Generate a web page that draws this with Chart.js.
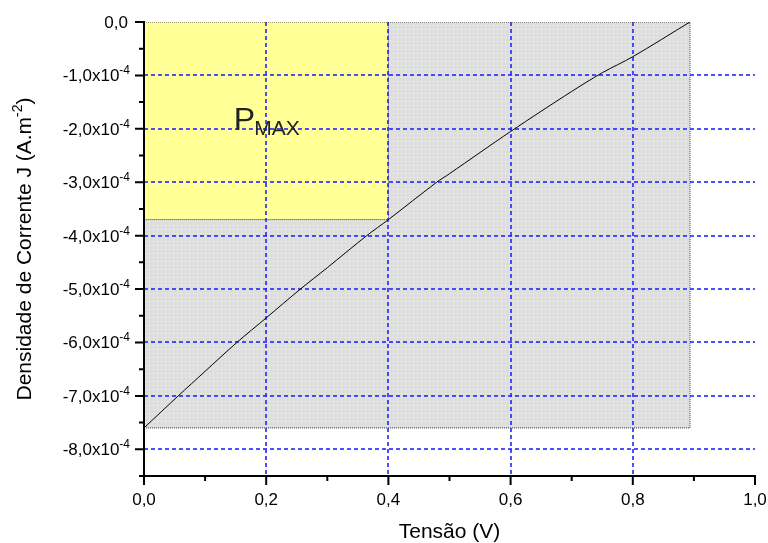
<!DOCTYPE html>
<html>
<head>
<meta charset="utf-8">
<script src="https://cdn.jsdelivr.net/npm/chart.js@4.4.0/dist/chart.umd.min.js"></script>
<style>
  html, body { margin: 0; padding: 0; background: #fff; }
  #wrap { width: 768px; height: 543px; }
</style>
</head>
<body>
<div id="wrap"><canvas id="jv" width="768" height="543"></canvas></div>
<script>
// J-V curve of the cell
const voltage = [0, 0.056, 0.1, 0.152, 0.2, 0.256, 0.3, 0.3645, 0.4, 0.479, 0.5, 0.6, 0.7, 0.75, 0.8, 0.8936];
const current = [-7.6e-4, -7.0e-4, -6.54e-4, -6.0e-4, -5.54e-4, -5.0e-4, -4.6e-4, -4.0e-4, -3.7e-4, -3.0e-4, -2.84e-4, -2.05e-4, -1.3e-4, -0.95e-4, -0.65e-4, 0];

// maximum power point and open circuit / short circuit
const vMax = 0.4, jMax = -3.7e-4;
const vOc = 0.8936, jSc = -7.6e-4;

const xTicks = [0, 0.2, 0.4, 0.6, 0.8, 1.0];
const xMinor = [0.1, 0.3, 0.5, 0.7, 0.9];
const yTicks = [0, -1e-4, -2e-4, -3e-4, -4e-4, -5e-4, -6e-4, -7e-4, -8e-4];
const yMinor = [-0.5e-4, -1.5e-4, -2.5e-4, -3.5e-4, -4.5e-4, -5.5e-4, -6.5e-4, -7.5e-4, -8.5e-4];

const FONT = '"Liberation Sans", Arial, Helvetica, sans-serif';

const curve = voltage.map((v, i) => ({ x: v, y: current[i] }));
const rect = (x1, y1) => [{ x: 0, y: 0 }, { x: 0, y: y1 }, { x: x1, y: y1 }, { x: x1, y: 0 }];

function fmt(v) {
  return v.toFixed(1).replace('.', ',');
}

// faint woven texture for the filled boxes
function texture(base, light) {
  const c = document.createElement('canvas');
  c.width = 4; c.height = 4;
  const g = c.getContext('2d');
  g.fillStyle = base;
  g.fillRect(0, 0, 4, 4);
  g.fillStyle = light;
  g.fillRect(0, 1, 4, 1);
  g.fillRect(1, 0, 1, 4);
  return g.createPattern(c, 'repeat');
}

const gridPlugin = {
  id: 'blueGrid',
  afterDatasetDraw(chart, args) {
    if (args.index !== 2) return; // right after the yellow box
    const { ctx, chartArea: a, scales: { x, y } } = chart;
    ctx.save();
    ctx.fillStyle = 'rgba(35,35,255,0.8)';
    const dash = 4, gap = 3;
    xTicks.forEach(v => {
      if (v === 0 || v === 1) return;
      const px = Math.round(x.getPixelForValue(v)) - 1;
      for (let t = a.top; t < a.bottom; t += dash + gap) {
        ctx.fillRect(px, t, 2, Math.min(dash, a.bottom - t));
      }
    });
    yTicks.forEach(v => {
      if (v === 0) return;
      const py = Math.round(y.getPixelForValue(v)) - 1;
      for (let t = a.left; t < a.right; t += dash + gap) {
        ctx.fillRect(t, py, Math.min(dash, a.right - t), 2);
      }
    });
    ctx.restore();
  }
};

const axesPlugin = {
  id: 'originAxes',
  afterDraw(chart) {
    const { ctx, chartArea: a, scales: { x, y } } = chart;
    ctx.save();
    ctx.strokeStyle = '#000';
    ctx.fillStyle = '#000';
    ctx.lineWidth = 2;

    // axis lines
    ctx.beginPath();
    ctx.moveTo(a.left, a.top - 1); ctx.lineTo(a.left, a.bottom);
    ctx.lineTo(a.right + 1, a.bottom);
    ctx.stroke();

    // ticks
    ctx.beginPath();
    yTicks.forEach(v => { const py = y.getPixelForValue(v); ctx.moveTo(a.left, py); ctx.lineTo(a.left - 9, py); });
    yMinor.forEach(v => { const py = y.getPixelForValue(v); ctx.moveTo(a.left, py); ctx.lineTo(a.left - 5, py); });
    xTicks.forEach(v => { const px = x.getPixelForValue(v); ctx.moveTo(px, a.bottom); ctx.lineTo(px, a.bottom + 9); });
    xMinor.forEach(v => { const px = x.getPixelForValue(v); ctx.moveTo(px, a.bottom); ctx.lineTo(px, a.bottom + 5); });
    ctx.stroke();

    // y tick labels with powers of ten
    const right = a.left - 14;
    yTicks.forEach(v => {
      const py = y.getPixelForValue(v);
      if (v === 0) {
        ctx.font = '17px ' + FONT;
        ctx.textAlign = 'right';
        ctx.fillText('0,0', right - 2, py + 6);
        return;
      }
      ctx.font = '12px ' + FONT;
      const sup = '-4';
      const w = ctx.measureText(sup).width;
      ctx.textAlign = 'left';
      ctx.fillText(sup, right - w, py - 1);
      ctx.font = '17px ' + FONT;
      ctx.textAlign = 'right';
      ctx.fillText(fmt(v * 1e4) + 'x10', right - w, py + 6);
    });

    // x tick labels
    ctx.font = '17px ' + FONT;
    ctx.textAlign = 'center';
    xTicks.forEach(v => ctx.fillText(fmt(v), x.getPixelForValue(v), a.bottom + 29));

    // axis titles
    ctx.font = '21px ' + FONT;
    ctx.fillText('Tensão (V)', (a.left + a.right) / 2, a.bottom + 62);

    ctx.save();
    ctx.translate(31, (a.top + a.bottom) / 2);
    ctx.rotate(-Math.PI / 2);
    const t1 = 'Densidade de Corrente J (A.m', t2 = '-2', t3 = ')';
    ctx.font = '21px ' + FONT;
    const w1 = ctx.measureText(t1).width, w3 = ctx.measureText(t3).width;
    ctx.font = '14px ' + FONT;
    const w2 = ctx.measureText(t2).width;
    let sx = -(w1 + w2 + w3) / 2;
    ctx.textAlign = 'left';
    ctx.font = '21px ' + FONT;
    ctx.fillText(t1, sx, 0);
    ctx.font = '14px ' + FONT;
    ctx.fillText(t2, sx + w1, -9);
    ctx.font = '21px ' + FONT;
    ctx.fillText(t3, sx + w1 + w2, 0);
    ctx.restore();

    // P_MAX label inside the yellow box
    const lx = x.getPixelForValue(0.147), ly = y.getPixelForValue(-2.03e-4);
    ctx.fillStyle = '#222';
    ctx.textAlign = 'left';
    ctx.font = '32px ' + FONT;
    ctx.fillText('P', lx, ly);
    const pw = ctx.measureText('P').width;
    ctx.font = '21px ' + FONT;
    ctx.fillText('MAX', lx + pw - 1, ly + 5);

    ctx.restore();
  }
};

new Chart(document.getElementById('jv'), {
  type: 'scatter',
  data: {
    datasets: [
      {
        data: curve,
        showLine: true,
        borderColor: '#000',
        borderWidth: 1,
        pointRadius: 0,
        tension: 0.3,
        fill: false
      },
      {
        // top edge of the boxes
        data: [{ x: 0, y: 0 }, { x: vOc, y: 0 }],
        showLine: true,
        borderColor: '#333',
        borderWidth: 1,
        borderDash: [1, 1],
        pointRadius: 0,
        fill: false
      },
      {
        data: rect(vMax, jMax),
        showLine: true,
        borderColor: '#333',
        borderWidth: 1,
        borderDash: [1, 1],
        pointRadius: 0,
        backgroundColor: texture('rgb(255,255,150)', 'rgb(255,255,170)'),
        fill: { value: 0 }
      },
      {
        data: rect(vOc, jSc),
        showLine: true,
        borderColor: '#333',
        borderWidth: 1,
        borderDash: [1, 1],
        pointRadius: 0,
        backgroundColor: texture('rgb(220,220,220)', 'rgb(228,228,228)'),
        fill: { value: 0 }
      }
    ]
  },
  options: {
    responsive: false,
    animation: false,
    layout: { padding: { left: 144, top: 22, right: 13, bottom: 67 } },
    plugins: {
      legend: { display: false },
      tooltip: { enabled: false }
    },
    scales: {
      x: { type: 'linear', min: 0, max: 1, display: false },
      y: { type: 'linear', min: -8.5e-4, max: 0, display: false }
    }
  },
  plugins: [gridPlugin, axesPlugin]
});
</script>
</body>
</html>
